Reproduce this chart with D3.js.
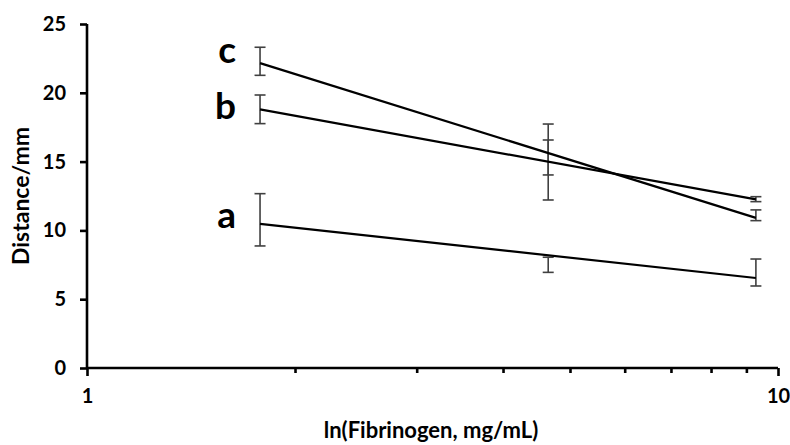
<!DOCTYPE html>
<html>
<head>
<meta charset="utf-8">
<script src="https://cdn.jsdelivr.net/npm/d3@7"></script>
<style>
  html, body { margin: 0; padding: 0; background: #fff; }
  svg { display: block; }
  text { font-family: Lato, "Open Sans", sans-serif; font-weight: bold; fill: #000; }
  .axis path, .axis line { stroke: #000; stroke-width: 2.6px; }
</style>
</head>
<body>
<svg id="chart" width="790" height="445"></svg>
<script>
// ---- data ----
const concentrations = [1.78, 4.65, 9.29];          // Fibrinogen, mg/mL
const seriesNames = ["a", "b", "c"];
const distanceA = [10.77, 7.50, 6.94];
const distanceB = [18.80, 14.97, 12.27];
const distanceC = [22.29, 15.30, 11.10];
const errorA = [1.90, 0.55, 0.98];
const errorB = [1.04, 2.76, 0.18];
const errorC = [1.02, 1.27, 0.39];
const labelLevels = [10.17, 18.10, 22.17];   // value at which each series letter sits
const yTicks = [0, 5, 10, 15, 20, 25];
const xTickLabels = [1, 10];
const xMinorTicks = [2, 3, 4, 5, 6, 7, 8, 9];
const xTitle = "ln(Fibrinogen, mg/mL)";
const yTitle = "Distance/mm";

const series = [
  { name: seriesNames[0], y: distanceA, err: errorA, label: labelLevels[0] },
  { name: seriesNames[1], y: distanceB, err: errorB, label: labelLevels[1] },
  { name: seriesNames[2], y: distanceC, err: errorC, label: labelLevels[2] }
];

const svg = d3.select("#chart");
const x = d3.scaleLog().domain([1, 10]).range([87, 778]);
const y = d3.scaleLinear().domain([0, 25]).range([368, 24]);

// logarithmic trendline (least squares of y on log x)
function trend(xs, ys) {
  const u = xs.map(v => Math.log10(v));
  const mu = d3.mean(u), my = d3.mean(ys);
  let sxy = 0, sxx = 0;
  u.forEach((ui, i) => { sxy += (ui - mu) * (ys[i] - my); sxx += (ui - mu) ** 2; });
  const slope = sxy / sxx, icpt = my - slope * mu;
  return v => icpt + slope * Math.log10(v);
}

// error bars
const eb = svg.append("g").attr("stroke", "#404040").attr("stroke-width", 1.6);
series.forEach(s => {
  s.y.forEach((v, i) => {
    const cx = x(concentrations[i]);
    const top = y(v + s.err[i]), bot = y(v - s.err[i]);
    eb.append("line").attr("x1", cx).attr("x2", cx).attr("y1", top).attr("y2", bot);
    eb.append("line").attr("x1", cx - 5.5).attr("x2", cx + 5.5).attr("y1", top).attr("y2", top);
    eb.append("line").attr("x1", cx - 5.5).attr("x2", cx + 5.5).attr("y1", bot).attr("y2", bot);
  });
});

// trendlines
const xFirst = d3.min(concentrations), xLast = d3.max(concentrations);
series.forEach(s => {
  const f = trend(concentrations, s.y);
  svg.append("line")
    .attr("x1", x(xFirst)).attr("y1", y(f(xFirst)))
    .attr("x2", x(xLast)).attr("y2", y(f(xLast)))
    .attr("stroke", "#000").attr("stroke-width", 2.2);
  // series letter label
  svg.append("text")
    .attr("x", x(xFirst) - 24)
    .attr("y", y(s.label))
    .attr("text-anchor", "end")
    .attr("font-size", 37)
    .text(s.name);
});

// y axis
const yAxis = svg.append("g").attr("class", "axis").attr("transform", "translate(87,0)")
  .call(d3.axisLeft(y).tickValues(yTicks).tickSize(7).tickPadding(14).tickFormat(d3.format("d")));
yAxis.select(".domain").attr("d", `M0,${y(25)}V${y(0)}`);
yAxis.selectAll(".tick text").attr("font-size", 20).attr("font-family", "Lato").attr("font-weight", "bold");

// x axis
const xAxis = svg.append("g").attr("class", "axis").attr("transform", "translate(0,368)")
  .call(d3.axisBottom(x).tickValues(xTickLabels).tickSize(8).tickPadding(13).tickFormat(d3.format("d")));
xAxis.select(".domain").attr("d", `M${x(1)},0H${x(10)}`);
xAxis.selectAll(".tick text").attr("font-size", 20).attr("font-family", "Lato").attr("font-weight", "bold");
const xMinor = svg.append("g").attr("class", "axis").attr("transform", "translate(0,368)")
  .call(d3.axisBottom(x).tickValues(xMinorTicks).tickSize(5).tickFormat(""));
xMinor.select(".domain").remove();

// titles
svg.append("text")
  .attr("x", 431).attr("y", 438)
  .attr("text-anchor", "middle")
  .attr("font-size", 22)
  .text(xTitle);
svg.append("text")
  .attr("transform", "translate(29,196) rotate(-90)")
  .attr("text-anchor", "middle")
  .attr("font-size", 23)
  .text(yTitle);
</script>
</body>
</html>
